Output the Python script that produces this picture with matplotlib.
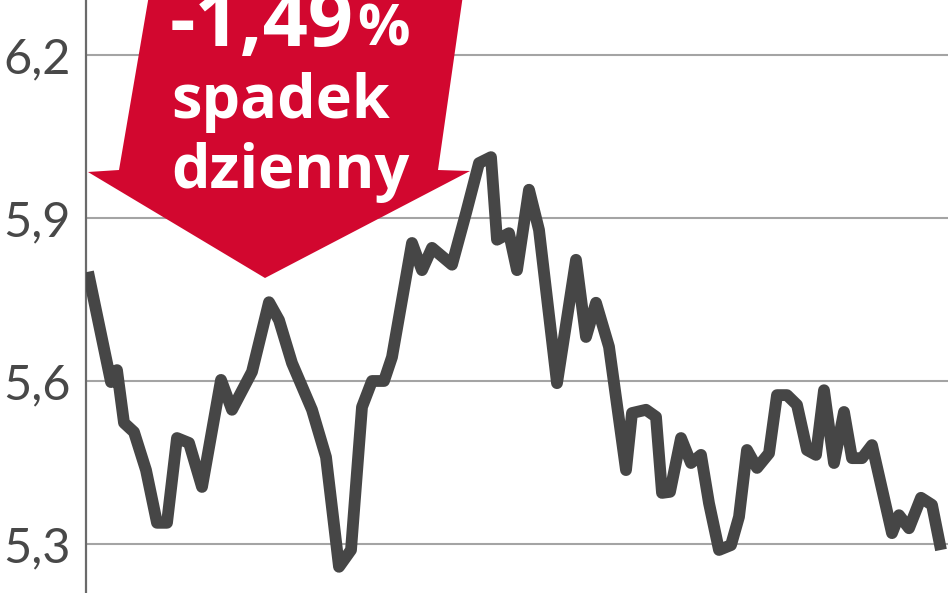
import matplotlib
matplotlib.use("Agg")
import matplotlib.pyplot as plt
from matplotlib.patches import Polygon
from matplotlib.transforms import Affine2D

# notowania (pozycja sesji na osi, kurs)
sesja = [2, 25, 31, 38, 48, 60, 71, 81, 91, 103, 116, 135, 146, 166, 183, 193,
         206, 226, 240, 253, 265, 276, 286, 298, 306, 326, 336, 346, 366, 380,
         393, 405, 411, 423, 431, 443, 453, 471, 490, 500, 510, 523, 540, 546,
         560, 570, 576, 584, 595, 605, 615, 623, 633, 645, 653, 661, 671, 683,
         691, 701, 711, 721, 730, 738, 748, 758, 766, 776, 786, 806, 813, 823,
         835, 846, 855]
kurs = [5.801, 5.598, 5.620, 5.523, 5.506, 5.436, 5.339, 5.339, 5.495, 5.486,
        5.405, 5.602, 5.547, 5.617, 5.745, 5.712, 5.633, 5.547, 5.460, 5.258,
        5.289, 5.552, 5.600, 5.600, 5.644, 5.854, 5.804, 5.845, 5.814, 5.909,
        6.001, 6.012, 5.860, 5.872, 5.804, 5.952, 5.878, 5.596, 5.823, 5.681,
        5.744, 5.663, 5.436, 5.541, 5.547, 5.534, 5.394, 5.396, 5.495, 5.449,
        5.464, 5.375, 5.289, 5.298, 5.350, 5.473, 5.440, 5.467, 5.574, 5.574,
        5.556, 5.473, 5.464, 5.583, 5.449, 5.543, 5.458, 5.458, 5.482, 5.320,
        5.353, 5.329, 5.385, 5.372, 5.289]

poziomy = [5.3, 5.6, 5.9, 6.2]
etykiety = ["5,3", "5,6", "5,9", "6,2"]

zmiana = "-1,49"
opis = ["spadek", "dzienny"]

W, H = 948, 593
fig = plt.figure(figsize=(W / 100, H / 100), dpi=100)
ax = fig.add_axes([86 / W, 0, (W - 86) / W, 1])
ax.set_xlim(0, W - 86)
ax.set_ylim(5.2098, 6.3012)

# piksele obrazka -> figura (y od gory)
px = Affine2D().scale(1 / W, -1 / H).translate(0, 1) + fig.transFigure

for s in ["top", "right", "bottom"]:
    ax.spines[s].set_visible(False)
ax.spines["left"].set_color("#6a6a6a")
ax.spines["left"].set_linewidth(1.6)

ax.set_xticks([])
ax.set_yticks(poziomy)
ax.set_yticklabels(etykiety, family="Lato", fontsize=35, color="#484848")
ax.tick_params(axis="y", length=0, pad=11)
ax.grid(axis="y", color="#a4a4a4", linewidth=1.5)
ax.set_axisbelow(True)

# czerwona strzalka
strzalka = Polygon([(149, -5), (463, -5), (438, 170), (470, 171), (265, 278),
                    (88, 172), (119, 170)], closed=True, facecolor="#d2072f",
                   edgecolor="none", transform=px, zorder=3)
ax.add_patch(strzalka)

ax.plot(sesja, kurs, color="#464646", linewidth=8.5, solid_joinstyle="round",
        solid_capstyle="butt", zorder=4)

txt = dict(family="Open Sans", fontweight="bold", color="white",
           transform=px, va="baseline", ha="left", zorder=5)
ax.text(170, 46, zmiana, fontsize=57, **txt)
ax.text(357, 46, "%", fontsize=42, **txt)
ax.text(171, 118, opis[0], fontsize=44, **txt)
ax.text(171, 188, opis[1], fontsize=44, **txt)

fig.savefig("out.png", dpi=100)
